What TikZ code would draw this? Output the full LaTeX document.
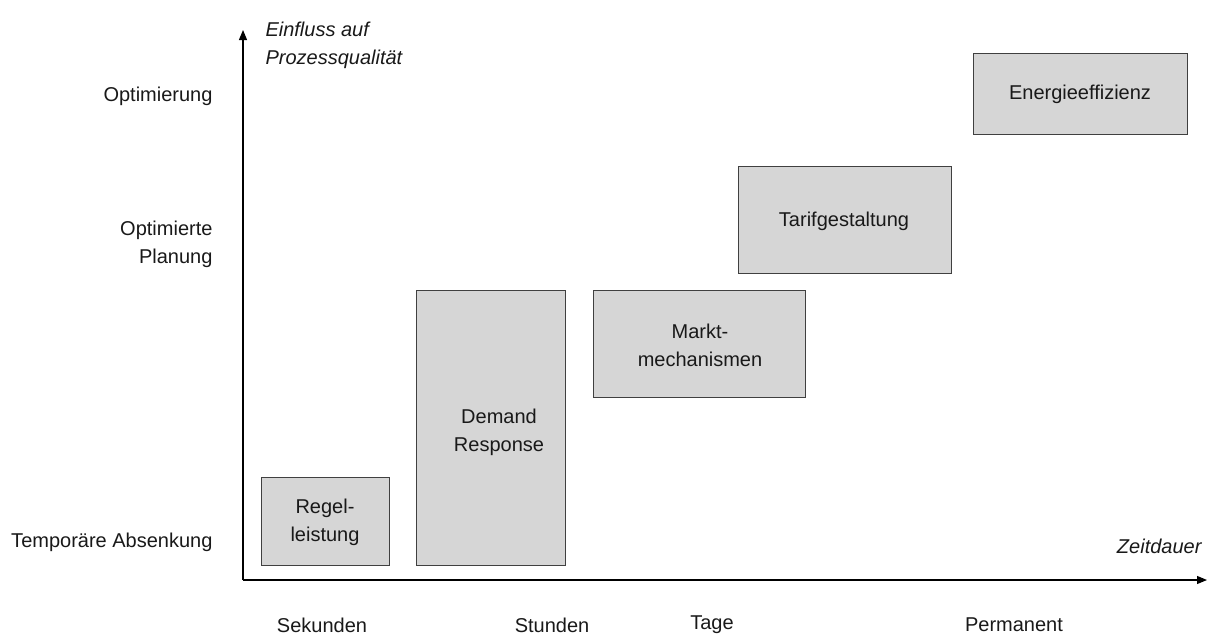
\documentclass[tikz,border=0pt]{standalone}
\usepackage{fontspec}
\setmainfont{Liberation Sans}
\usetikzlibrary{arrows.meta}
\begin{document}
\begin{tikzpicture}[x=1pt,y=-1pt,
  box/.style={draw=black!75,fill=black!16,line width=0.9pt},
  txt/.style={font=\fontsize{20}{28}\selectfont,align=center,text=black!90},
  axis/.style={line width=1.1pt,-{Triangle[length=10pt,width=8pt]}}]
\useasboundingbox (0,0) rectangle (1207,637);
% boxes
\draw[box] (261,477) rectangle (389,565);
\node[txt] (regel) at (325,522) {Regel-\\leistung};
\draw[box] (416,290) rectangle (565,565);
\node[txt] (demand) at (499,432) {Demand\\Response};
\draw[box] (593,290) rectangle (805,397);
\node[txt] (markt) at (700,345) {Markt-\\mechanismen};
\draw[box] (738,166) rectangle (951,273);
\node[txt] (tarif) at (844,221) {Tarifgestaltung};
\draw[box] (973,53) rectangle (1187,134);
\node[txt] (energie) at (1080,94) {Energieeffizienz};
% axes
\coordinate (o) at (243,580);
\coordinate (ytop) at (243,30);
\coordinate (xend) at (1207,580);
\draw[axis] (o) -- (ytop);
\draw[axis] (o) -- (xend);
% axis labels
\node[txt,anchor=north west,align=left,font=\fontsize{20}{28}\selectfont\itshape] (ylab) at (262,18) {Einfluss auf\\Prozessqualität};
\node[txt,anchor=east,font=\fontsize{20}{28}\selectfont\itshape] (xlab) at (1205,546) {Zeitdauer};
% y tick labels
\node[txt,anchor=east] (y1) at (216,96) {Optimierung};
\node[txt,anchor=east,align=right] (y2) at (216,244) {Optimierte\\Planung};
\node[txt,anchor=east] (y3) at (216,542) {Temporäre Absenkung};
% x tick labels
\node[txt] (x1) at (322,625) {Sekunden};
\node[txt] (x2) at (552,625) {Stunden};
\node[txt] (x3) at (712,625) {Tage};
\node[txt] (x4) at (1014,625) {Permanent};
\end{tikzpicture}
\end{document}
